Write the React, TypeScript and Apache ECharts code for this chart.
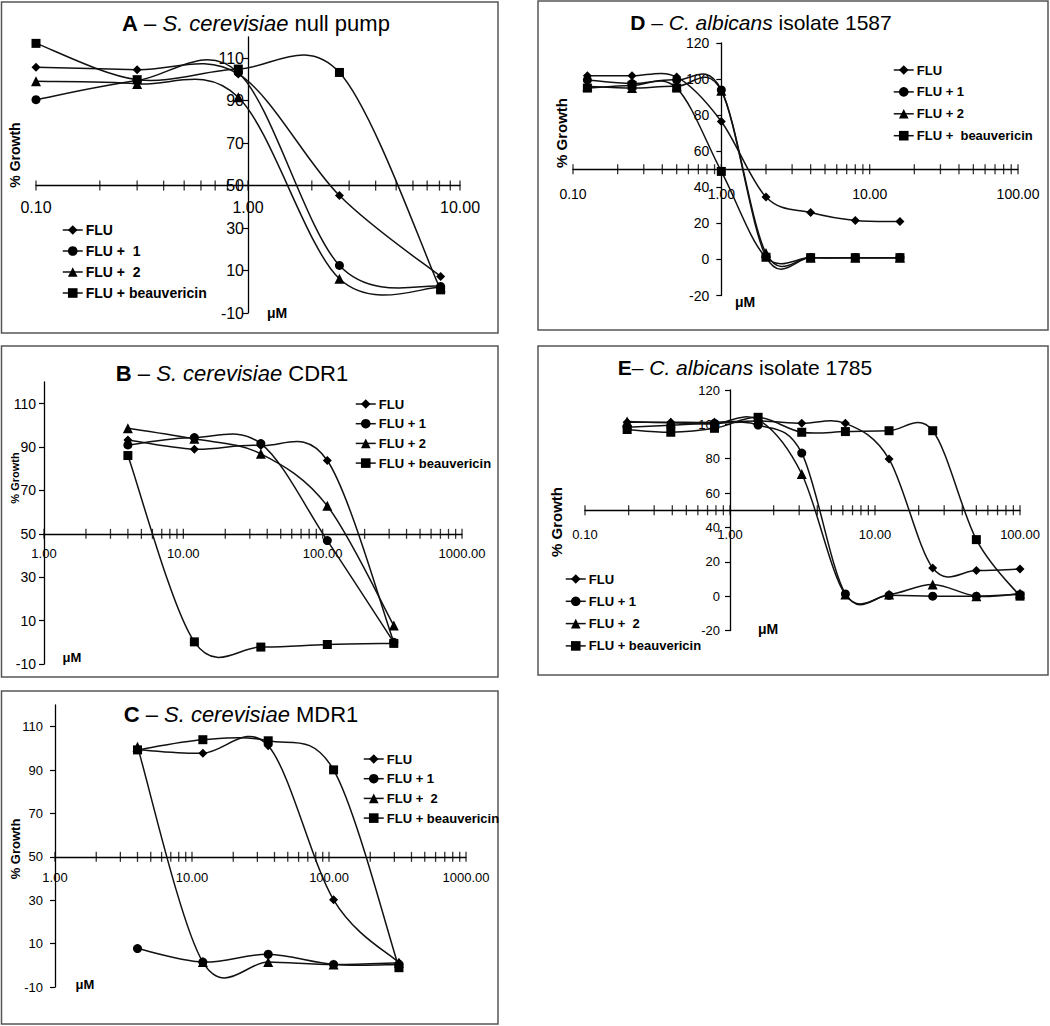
import React, { useEffect, useRef } from "react";
import * as echarts from "echarts";

const FONT = '"Liberation Sans", Arial, Helvetica, sans-serif';

// ---------- Panel A: S. cerevisiae null pump ----------
const xA = [0.1, 0.3, 0.9, 2.7, 8.1];
const A_FLU = [105.7, 104.6, 102.6, 45.3, 7.2];
const A_FLU1 = [90.5, 99.5, 103.3, 12.4, 2.5];
const A_FLU2 = [99.1, 97.9, 91.6, 6.1, 2.1];
const A_BEA = [117, 99.9, 104.9, 103.3, 0.9];

// ---------- Panel B: S. cerevisiae CDR1 ----------
const xB = [4, 12, 36, 108, 324];
const B_FLU = [93.3, 89, 90.7, 83.8, 0];
const B_FLU1 = [91, 94.4, 91.6, 46.9, 0];
const B_FLU2 = [98.7, 93.8, 86.9, 62.9, 7.7];
const B_BEA = [86.1, 0.2, -2.2, -1, -0.5];

// ---------- Panel C: S. cerevisiae MDR1 ----------
const xC = [4, 12, 36, 108, 324];
const C_FLU = [99.4, 97.8, 101.2, 30.2, 1.2];
const C_FLU1 = [7.7, 1.5, 5.1, 0.4, 0.4];
const C_FLU2 = [100.8, 1.5, 1.5, 0.4, 1.2];
const C_BEA = [99.3, 104, 103.5, 90.1, -1.1];

// ---------- Panel D: C. albicans isolate 1587 ----------
const xD = [0.125, 0.25, 0.5, 1, 2, 4, 8, 16];
const D_FLU = [101.8, 101.8, 101.1, 76.5, 34.6, 26, 21.6, 21];
const D_FLU1 = [99.5, 97.5, 99.5, 94, 1.6, 1, 1, 1];
const D_FLU2 = [96, 95, 96, 93.5, 3.5, 1, 1, 1];
const D_BEA = [95, 96.5, 95, 48.8, 1.2, 1, 1, 1];

// ---------- Panel E: C. albicans isolate 1785 ----------
const xE = [0.1953125, 0.390625, 0.78125, 1.5625, 3.125, 6.25, 12.5, 25, 50, 100];
const E_FLU = [101.2, 101.2, 101.2, 102, 100.6, 100.6, 79.8, 16.4, 14.9, 15.8];
const E_FLU1 = [98.3, 99.5, 100.6, 99.6, 83.3, 1.3, 0.5, 0, 0, 1];
const E_FLU2 = [101.6, 100.9, 100.3, 102.7, 71.1, 0.9, 0.9, 6.8, 0, 1.5];
const E_BEA = [97, 95.4, 97.7, 104.1, 95.4, 95.8, 96.3, 96.3, 32.9, 0];

// ---------- Axis tick values ----------
const yTicksABC = [-10, 10, 30, 50, 70, 90, 110];
const yTicksDE = [-20, 0, 20, 40, 60, 80, 100, 120];
const xTicks01to10 = [0.1, 0.2, 0.3, 0.4, 0.5, 0.6, 0.7, 0.8, 0.9, 1, 2, 3, 4, 5, 6, 7, 8, 9, 10];
const xTicks01to100 = [0.1, 0.2, 0.3, 0.4, 0.5, 0.6, 0.7, 0.8, 0.9, 1, 2, 3, 4, 5, 6, 7, 8, 9, 10, 20, 30, 40, 50, 60, 70, 80, 90, 100];
const xTicks1to1000 = [1, 2, 3, 4, 5, 6, 7, 8, 9, 10, 20, 30, 40, 50, 60, 70, 80, 90, 100, 200, 300, 400, 500, 600, 700, 800, 900, 1000];

const SYMBOLS = ["diamond", "circle", "triangle", "rect"];
const SYM_SIZES = [9, 9, 10, 9];
const LINE_COLOR = "#111";
const LINE_WIDTH = 1.5;

const panels = [
  {
    letter: "A", species: "S. cerevisiae", rest: " null pump", sep: " – ",
    titleX: 256, titleY: 23, titleSize: 22,
    box: [1.5, 2, 496.5, 331],
    grid: { left: 36, top: 37, width: 424, height: 276 },
    xMin: 0.1, xMax: 10, yMin: -10, yMax: 120, yTicks: yTicksABC, xTicks: xTicks01to10,
    xs: xA, series: [A_FLU, A_FLU1, A_FLU2, A_BEA],
    names: ["FLU", "FLU +  1", "FLU +  2", "FLU + beauvericin"],
    xLabelSize: 16, yLabelSize: 16, xLabelMargin: 14, yLabelMargin: 4,
    legend: { left: 62, top: 222, gap: 5, size: 14 },
    growth: { x: 15, y: 155, size: 14 },
    um: { x: 277, y: 313, size: 14 },
  },
  {
    letter: "B", species: "S. cerevisiae", rest: " CDR1", sep: " – ",
    titleX: 232, titleY: 373, titleSize: 22,
    box: [1.5, 346, 496.5, 331],
    grid: { left: 44, top: 382, width: 418, height: 282 },
    xMin: 1, xMax: 1000, yMin: -10, yMax: 120, yTicks: yTicksABC, xTicks: xTicks1to1000,
    xs: xB, series: [B_FLU, B_FLU1, B_FLU2, B_BEA],
    names: ["FLU", "FLU + 1", "FLU + 2", "FLU + beauvericin"],
    xLabelSize: 13, yLabelSize: 14, xLabelMargin: 13, yLabelMargin: 8,
    legend: { left: 355, top: 396, gap: 3.7, size: 13 },
    growth: { x: 15, y: 478, size: 11 },
    um: { x: 72, y: 657, size: 13 },
  },
  {
    letter: "C", species: "S. cerevisiae", rest: " MDR1", sep: " – ",
    titleX: 241, titleY: 714, titleSize: 22,
    box: [1.5, 691, 496.5, 333],
    grid: { left: 55, top: 705, width: 411, height: 282 },
    xMin: 1, xMax: 1000, yMin: -10, yMax: 120, yTicks: yTicksABC, xTicks: xTicks1to1000,
    xs: xC, series: [C_FLU, C_FLU1, C_FLU2, C_BEA],
    names: ["FLU", "FLU + 1", "FLU +  2", "FLU + beauvericin"],
    xLabelSize: 13, yLabelSize: 13, xLabelMargin: 14, yLabelMargin: 12,
    legend: { left: 363, top: 751, gap: 3.7, size: 13 },
    growth: { x: 15, y: 849, size: 13 },
    um: { x: 85, y: 984, size: 13 },
  },
  {
    letter: "D", species: "C. albicans", rest: " isolate 1587", sep: " – ",
    titleX: 761, titleY: 22, titleSize: 21,
    box: [538, 1, 510, 329],
    grid: { left: 573, top: 43, width: 445, height: 252.5 },
    xMin: 0.1, xMax: 100, yMin: -20, yMax: 120, yTicks: yTicksDE, xTicks: xTicks01to100,
    xs: xD, series: [D_FLU, D_FLU1, D_FLU2, D_BEA],
    names: ["FLU", "FLU + 1", "FLU + 2", "FLU +  beauvericin"],
    xLabelSize: 14, yLabelSize: 14, xLabelMargin: 18, yLabelMargin: 12,
    legend: { left: 893, top: 62, gap: 5.9, size: 13 },
    growth: { x: 561, y: 133, size: 15 },
    um: { x: 745, y: 302, size: 14 },
  },
  {
    letter: "E", species: "C. albicans", rest: " isolate 1785", sep: "– ",
    titleX: 745, titleY: 367, titleSize: 21,
    box: [538, 346, 510, 329],
    grid: { left: 585, top: 390, width: 435, height: 240.5 },
    xMin: 0.1, xMax: 100, yMin: -20, yMax: 120, yTicks: yTicksDE, xTicks: xTicks01to100,
    xs: xE, series: [E_FLU, E_FLU1, E_FLU2, E_BEA],
    names: ["FLU", "FLU + 1", "FLU +  2", "FLU + beauvericin"],
    xLabelSize: 13, yLabelSize: 13, xLabelMargin: 18, yLabelMargin: 10,
    legend: { left: 565, top: 571, gap: 6.3, size: 13 },
    growth: { x: 556, y: 522, size: 15 },
    um: { x: 768, y: 629, size: 14 },
  },
];

const X_CROSS_Y = 50; // horizontal axis crosses the value axis at 50 % growth
const Y_CROSS_X = 1; // value axis crosses the concentration axis at 1 µM

// Excel-like smoothed line: each segment is a cubic Bezier whose control
// points follow the Catmull-Rom rule (tangent = (next - prev) / 6) in pixel space.
function smoothSegmentRenderer(xs: number[], vals: number[]) {
  const n = xs.length;
  return (params: any, api: any) => {
    const j = params.dataIndex;
    if (j >= n - 1) return { type: "group", children: [] };
    const P = (k: number) => {
      const kk = Math.max(0, Math.min(n - 1, k));
      return api.coord([xs[kk], vals[kk]]);
    };
    const p0 = P(j - 1);
    const p1 = P(j);
    const p2 = P(j + 1);
    const p3 = P(j + 2);
    const cpx1 = p1[0] + (p2[0] - p0[0]) / 6;
    const cpy1 = p1[1] + (p2[1] - p0[1]) / 6;
    const cpx2 = p2[0] - (p3[0] - p1[0]) / 6;
    const cpy2 = p2[1] - (p3[1] - p1[1]) / 6;
    return {
      type: "bezierCurve",
      shape: { x1: p1[0], y1: p1[1], x2: p2[0], y2: p2[1], cpx1, cpy1, cpx2, cpy2 },
      style: { stroke: LINE_COLOR, lineWidth: LINE_WIDTH, fill: null },
      silent: true,
    };
  };
}

function buildOption() {
  const grid: any[] = [];
  const xAxis: any[] = [];
  const yAxis: any[] = [];
  const series: any[] = [];
  const legend: any[] = [];
  const graphic: any[] = [];

  panels.forEach((p, i) => {
    grid.push({ ...p.grid, containLabel: false, outerBoundsMode: "none" });
    const lx0 = Math.log10(p.xMin);
    const lx1 = Math.log10(p.xMax);
    const yAxisOffset = -(p.grid.width * (Math.log10(Y_CROSS_X) - lx0)) / (lx1 - lx0);
    const xAxisOffset = -(p.grid.height * (X_CROSS_Y - p.yMin)) / (p.yMax - p.yMin);

    xAxis.push({
      type: "log",
      logBase: 10,
      gridIndex: i,
      min: p.xMin,
      max: p.xMax,
      position: "bottom",
      offset: xAxisOffset,
      axisLine: { show: true, onZero: false, lineStyle: { color: "#000", width: 1.3 } },
      axisTick: { show: false },
      minorTick: { show: false },
      splitLine: { show: false },
      axisLabel: {
        formatter: (v: number) => Number(v).toFixed(2),
        fontSize: p.xLabelSize,
        fontFamily: FONT,
        color: "#000",
        margin: p.xLabelMargin,
      },
    });
    yAxis.push({
      type: "value",
      gridIndex: i,
      min: p.yMin,
      max: p.yMax,
      interval: 20,
      position: "left",
      offset: yAxisOffset,
      axisLine: { show: true, onZero: false, lineStyle: { color: "#000", width: 1.3 } },
      axisTick: { show: true, inside: false, length: 5, customValues: p.yTicks, lineStyle: { color: "#000", width: 1.2 } },
      splitLine: { show: false },
      axisLabel: {
        customValues: p.yTicks,
        fontSize: p.yLabelSize,
        fontFamily: FONT,
        color: "#000",
        margin: p.yLabelMargin,
      },
    });

    // tick marks crossing the horizontal axis (log decades and their 2..9 subdivisions)
    series.push({
      type: "scatter",
      name: "ticks" + p.letter,
      xAxisIndex: i,
      yAxisIndex: i,
      data: p.xTicks.map((t) => [t, X_CROSS_Y]),
      symbol: "rect",
      symbolSize: [1.3, 10],
      itemStyle: { color: "#000" },
      silent: true,
      clip: false,
      z: 1,
    });

    p.series.forEach((vals, k) => {
      const data = p.xs.map((x, j) => [x, vals[j]]);
      // smoothed connecting curve
      series.push({
        type: "custom",
        name: "curve" + p.letter + k,
        xAxisIndex: i,
        yAxisIndex: i,
        coordinateSystem: "cartesian2d",
        data,
        encode: { x: 0, y: 1 },
        renderItem: smoothSegmentRenderer(p.xs, vals),
        clip: false,
        silent: true,
        z: 3,
      });
      // markers (legend entries come from these)
      series.push({
        type: "line",
        name: p.names[k],
        xAxisIndex: i,
        yAxisIndex: i,
        data,
        symbol: SYMBOLS[k],
        symbolSize: SYM_SIZES[k],
        showSymbol: true,
        lineStyle: { color: LINE_COLOR, width: LINE_WIDTH, opacity: 0 },
        itemStyle: { color: "#000", borderWidth: 0 },
        clip: false,
        silent: true,
        z: 4,
      });
    });

    legend.push({
      orient: "vertical",
      left: p.legend.left,
      top: p.legend.top,
      itemGap: p.legend.gap,
      itemWidth: 20,
      itemHeight: 12,
      padding: 0,
      selectedMode: false,
      data: p.names,
      lineStyle: { color: LINE_COLOR, width: LINE_WIDTH, opacity: 1 },
      textStyle: {
        fontFamily: FONT,
        fontWeight: "bold",
        fontSize: p.legend.size,
        lineHeight: 16,
        color: "#000",
        padding: [0, 0, 0, -2],
      },
    });

    // panel frame
    graphic.push({
      type: "rect",
      shape: { x: p.box[0], y: p.box[1], width: p.box[2], height: p.box[3] },
      style: { fill: "none", stroke: "#555", lineWidth: 1.5 },
      silent: true,
      z: -10,
    });
    // title
    graphic.push({
      type: "text",
      x: p.titleX,
      y: p.titleY,
      silent: true,
      style: {
        text: `{b|${p.letter}}${p.sep}{i|${p.species}}${p.rest}`,
        fontSize: p.titleSize,
        fontFamily: FONT,
        fill: "#000",
        align: "center",
        verticalAlign: "middle",
        textAlign: "center",
        textVerticalAlign: "middle",
        rich: {
          b: { fontWeight: "bold", fontSize: p.titleSize, fontFamily: FONT, fill: "#000" },
          i: { fontStyle: "italic", fontSize: p.titleSize, fontFamily: FONT, fill: "#000" },
        },
      },
    });
    // y axis name
    graphic.push({
      type: "text",
      x: p.growth.x,
      y: p.growth.y,
      rotation: Math.PI / 2,
      silent: true,
      style: {
        text: "% Growth",
        fontSize: p.growth.size,
        fontWeight: "bold",
        fontFamily: FONT,
        fill: "#000",
        align: "center",
        verticalAlign: "middle",
        textAlign: "center",
        textVerticalAlign: "middle",
      },
    });
    // x axis unit
    graphic.push({
      type: "text",
      x: p.um.x,
      y: p.um.y,
      silent: true,
      style: {
        text: "μM",
        fontSize: p.um.size,
        fontWeight: "bold",
        fontFamily: FONT,
        fill: "#000",
        align: "center",
        verticalAlign: "middle",
        textAlign: "center",
        textVerticalAlign: "middle",
      },
    });
  });

  return {
    animation: false,
    backgroundColor: "#fff",
    grid,
    xAxis,
    yAxis,
    legend,
    series,
    graphic,
  };
}

export default function App() {
  const ref = useRef<HTMLDivElement | null>(null);
  useEffect(() => {
    if (!ref.current) return;
    const chart = echarts.init(ref.current, undefined, { renderer: "svg" });
    chart.setOption(buildOption() as any);
    return () => chart.dispose();
  }, []);
  return (
    <div
      ref={ref}
      style={{ position: "absolute", left: 0, top: 0, width: 1050, height: 1026, background: "#fff" }}
    />
  );
}
